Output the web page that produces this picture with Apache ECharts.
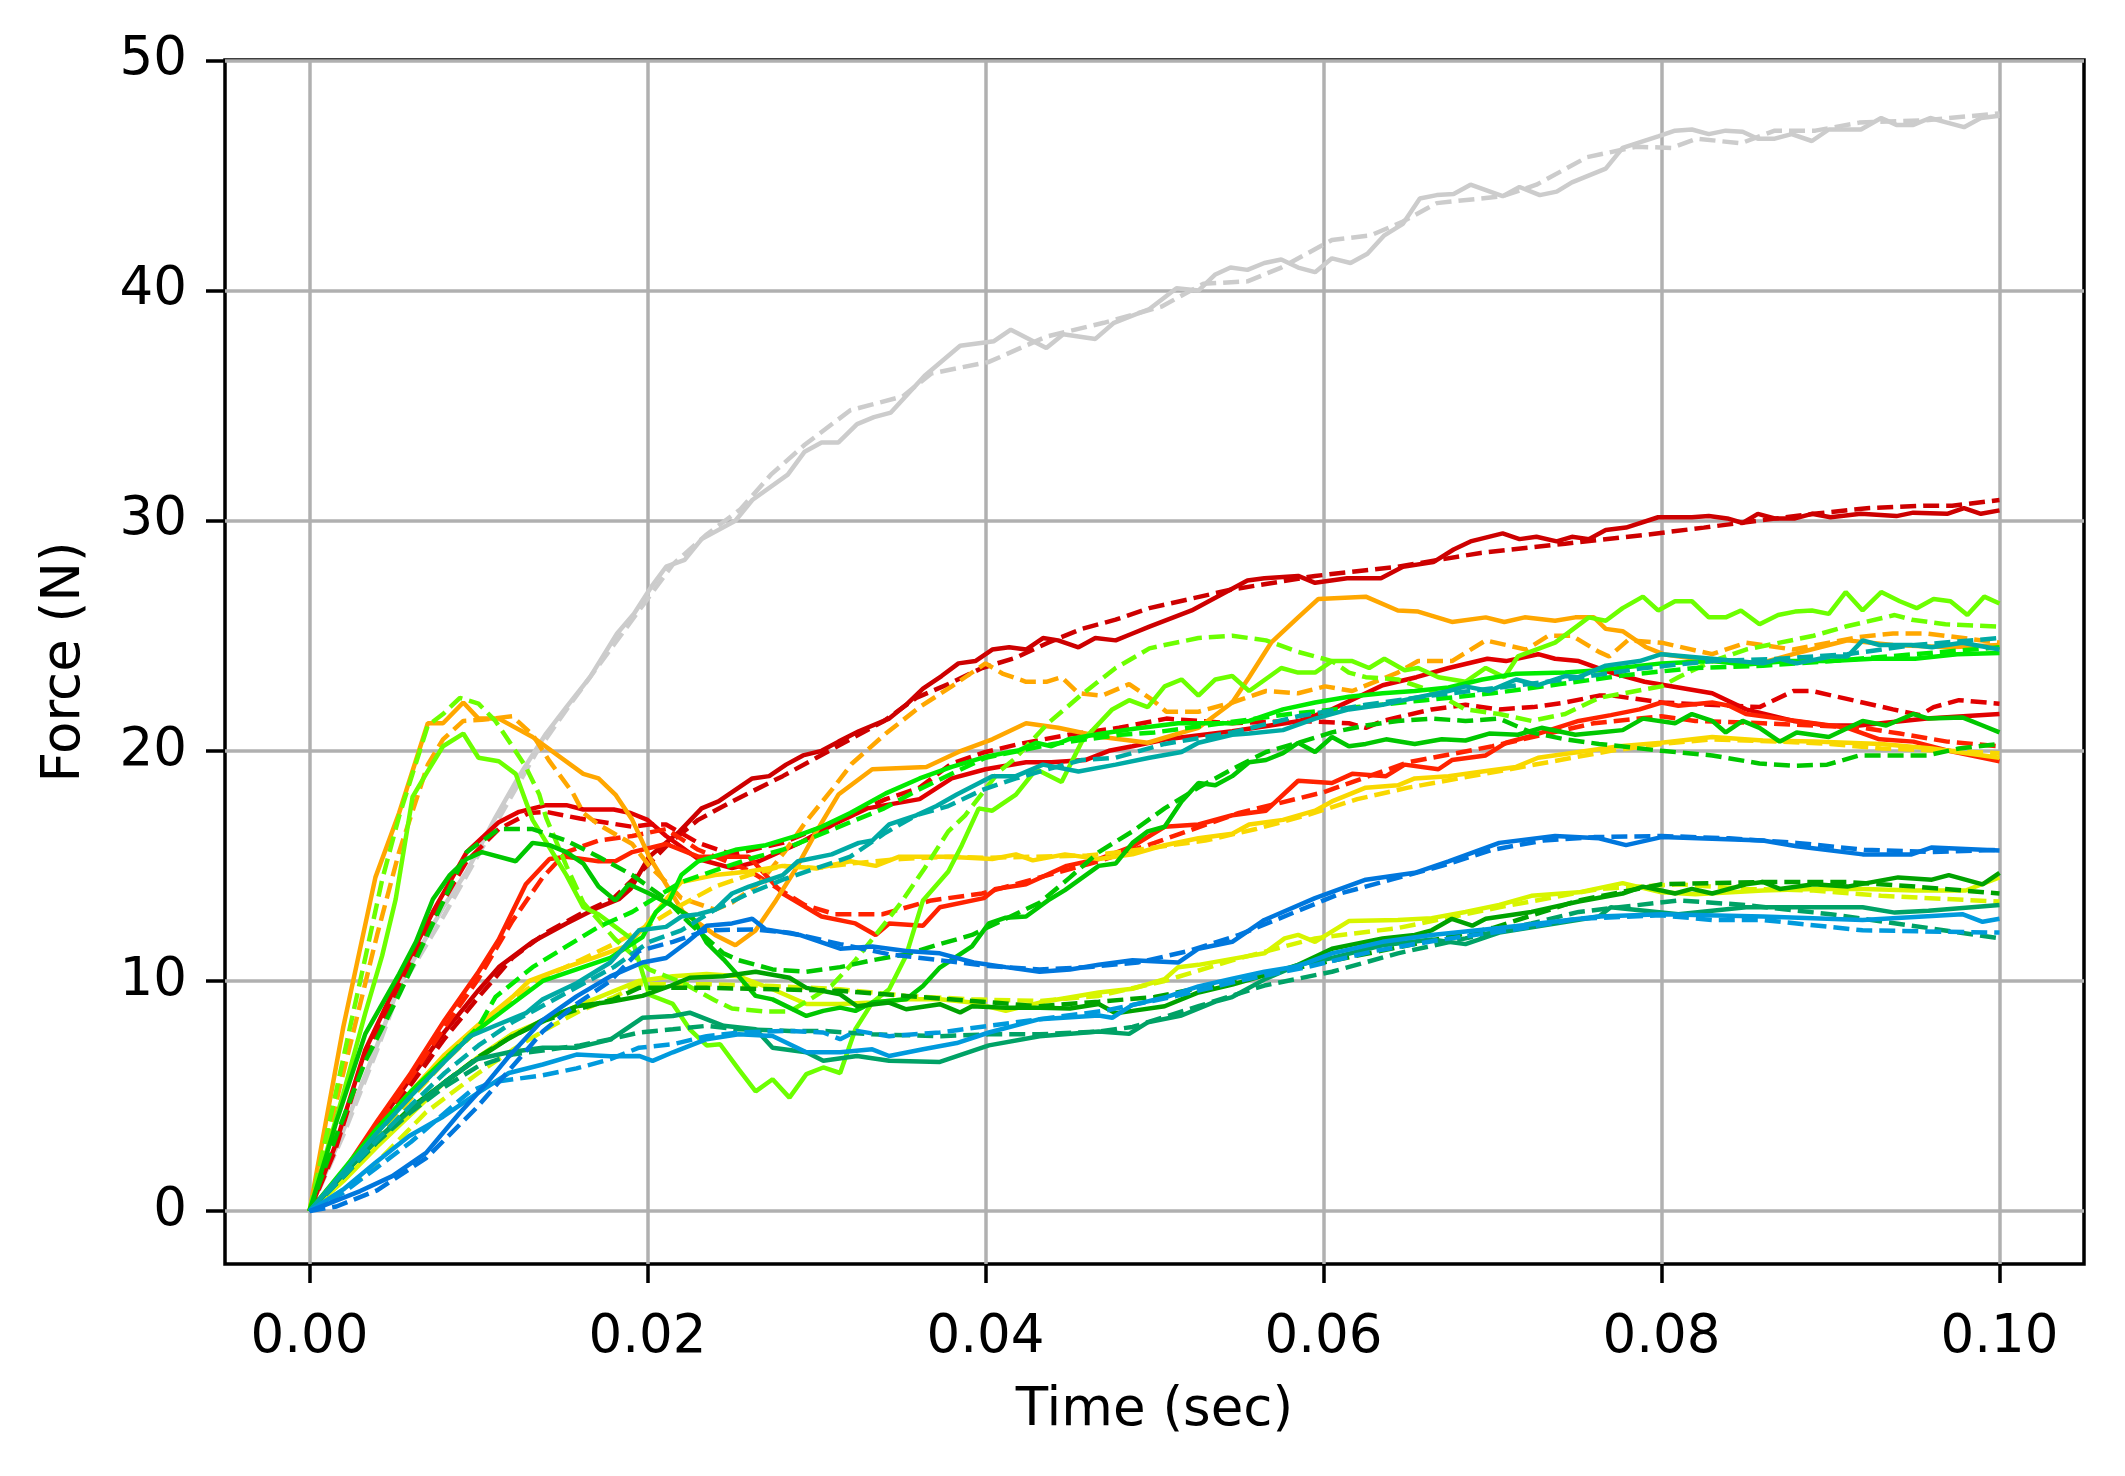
<!DOCTYPE html>
<html>
<head>
<meta charset="utf-8">
<title>Force vs time</title>
<script src="https://cdn.jsdelivr.net/npm/echarts@6/dist/echarts.min.js"></script>
<style>
  html, body { margin: 0; padding: 0; background: #ffffff; }
  #chart { width: 2125px; height: 1476px; }
</style>
</head>
<body>
<div id="chart"></div>
<script>
// tick values
const xTicks = [0, 0.02, 0.04, 0.06, 0.08, 0.1];
const yTicks = [0, 10, 20, 30, 40, 50];

// line colours, grey first, blue last (drawn in this order)
const colors = ["#cccccc", "#cd0000", "#e10000", "#ff2200", "#ffa700", "#f9d800", "#d8f500",
  "#6cff00", "#00eb00", "#00c700", "#00a200", "#00a266", "#00aaa5", "#009add", "#0077dd"];

// [time (sec), force (N)]
const greySolid = [[0,0],[0.002,3.5],[0.004,7.2],[0.0053,9.8],[0.0079,13.2],[0.0093,14.75],[0.011,17.1],[0.0124,18.9],[0.014,20.75],[0.0152,21.9],[0.0166,23.2],[0.0182,25.1],[0.0192,25.96],[0.0202,27.1],[0.0211,28.0],[0.0222,28.3],[0.0232,29.2],[0.0252,30],[0.0262,30.9],[0.0283,32.0],[0.0293,33.0],[0.0303,33.4],[0.0313,33.4],[0.0324,34.2],[0.0334,34.5],[0.0344,34.7],[0.0364,36.3],[0.0385,37.6],[0.0405,37.8],[0.0415,38.3],[0.0436,37.5],[0.0446,38.1],[0.0465,37.9],[0.0476,38.6],[0.0497,39.2],[0.0513,40.1],[0.0526,40.0],[0.0536,40.7],[0.0545,41.0],[0.0555,40.9],[0.0565,41.2],[0.0575,41.35],[0.0585,41.0],[0.0595,40.8],[0.0605,41.4],[0.0616,41.2],[0.0626,41.6],[0.0636,42.4],[0.0647,42.9],[0.0657,44.0],[0.0667,44.15],[0.0677,44.2],[0.0687,44.6],[0.0706,44.1],[0.0716,44.5],[0.0728,44.15],[0.0738,44.3],[0.0747,44.7],[0.0767,45.3],[0.0777,46.2],[0.0798,46.7],[0.0808,46.95],[0.0818,47.0],[0.0828,46.8],[0.0838,46.95],[0.0848,46.9],[0.0857,46.6],[0.0867,46.6],[0.0877,46.8],[0.0889,46.5],[0.0899,47.0],[0.0918,47.0],[0.093,47.5],[0.0939,47.2],[0.0949,47.2],[0.0959,47.5],[0.0969,47.3],[0.0979,47.1],[0.0989,47.5],[0.1,47.6]];
const greyDashed = [[0,0],[0.002,3.3],[0.004,7.0],[0.0053,9.6],[0.008,12.9],[0.011,16.8],[0.0134,19.9],[0.0156,22.2],[0.018,24.6],[0.0198,26.4],[0.0215,28.1],[0.0235,29.4],[0.0255,30.5],[0.0273,32.0],[0.0293,33.3],[0.032,34.8],[0.0351,35.4],[0.0368,36.4],[0.0402,36.9],[0.0436,38.0],[0.047,38.6],[0.0504,39.3],[0.0529,40.3],[0.0555,40.4],[0.0575,41.0],[0.0605,42.2],[0.0628,42.4],[0.0647,43.0],[0.0667,43.8],[0.0706,44.1],[0.0726,44.6],[0.0756,45.8],[0.0785,46.25],[0.0806,46.2],[0.0821,46.6],[0.0847,46.4],[0.0867,46.95],[0.0891,46.95],[0.0917,47.3],[0.0956,47.4],[0.1,47.7]];

const darkRedSolid = [[0,0],[0.002,1.7],[0.004,3.7],[0.006,5.8],[0.008,7.8],[0.01,9.6],[0.0112,10.6],[0.0132,11.7],[0.0152,12.5],[0.0171,13.2],[0.0183,13.55],[0.019,14.0],[0.0201,15.4],[0.0219,16.5],[0.0232,17.5],[0.0242,17.8],[0.0252,18.3],[0.0262,18.8],[0.0272,18.9],[0.0282,19.4],[0.0292,19.8],[0.0303,20.0],[0.0313,20.4],[0.0325,20.85],[0.0343,21.4],[0.0353,22.0],[0.0363,22.7],[0.0374,23.25],[0.0384,23.8],[0.0394,23.9],[0.0404,24.4],[0.0414,24.5],[0.0424,24.4],[0.0434,24.9],[0.0443,24.8],[0.0455,24.5],[0.0465,24.9],[0.0477,24.8],[0.0487,25.1],[0.0497,25.4],[0.0522,26.1],[0.0536,26.65],[0.0555,27.4],[0.0565,27.5],[0.0585,27.6],[0.0595,27.3],[0.0614,27.5],[0.0634,27.5],[0.0647,28.0],[0.0665,28.2],[0.0677,28.75],[0.0687,29.1],[0.0706,29.45],[0.0716,29.2],[0.0726,29.3],[0.0738,29.1],[0.0747,29.3],[0.0757,29.2],[0.0767,29.6],[0.0779,29.7],[0.0798,30.15],[0.0818,30.15],[0.0828,30.2],[0.0839,30.1],[0.0848,29.9],[0.0857,30.3],[0.0867,30.1],[0.0879,30.1],[0.0889,30.3],[0.09,30.15],[0.0918,30.3],[0.0939,30.2],[0.0949,30.35],[0.0969,30.3],[0.0979,30.55],[0.0989,30.3],[0.1,30.45]];
const darkRedDashed = [[0,0],[0.002,1.5],[0.004,3.5],[0.006,5.5],[0.008,7.5],[0.01,9.3],[0.012,11.0],[0.014,12.1],[0.016,12.9],[0.018,13.6],[0.0201,15.1],[0.0213,16.0],[0.023,17.0],[0.025,17.8],[0.028,18.9],[0.03,19.7],[0.032,20.5],[0.034,21.3],[0.0359,22.3],[0.0378,22.9],[0.0398,23.6],[0.0418,24.05],[0.0437,24.7],[0.0457,25.3],[0.0477,25.7],[0.0497,26.2],[0.0545,27.0],[0.0595,27.6],[0.0644,28.0],[0.0693,28.6],[0.0743,29.0],[0.0792,29.4],[0.0825,29.7],[0.0857,30.0],[0.089,30.3],[0.0923,30.55],[0.0955,30.65],[0.0972,30.65],[0.1,30.9]];

const redSolid = [[0,0],[0.0015,2.8],[0.0033,7.0],[0.0053,10.1],[0.0073,13.0],[0.0093,15.6],[0.0112,16.9],[0.0124,17.35],[0.014,17.64],[0.0152,17.64],[0.0162,17.45],[0.018,17.45],[0.019,17.3],[0.02,17.0],[0.0211,16.3],[0.023,15.3],[0.025,14.9],[0.0266,15.2],[0.029,16.0],[0.031,16.8],[0.033,17.5],[0.0361,17.9],[0.038,18.8],[0.04,19.2],[0.0424,19.5],[0.0439,19.5],[0.0459,19.6],[0.0473,20.0],[0.0487,20.2],[0.0507,20.5],[0.0546,20.85],[0.0586,21.3],[0.0605,21.8],[0.0635,22.85],[0.0655,23.2],[0.0674,23.6],[0.0697,24.0],[0.0708,23.9],[0.0727,24.2],[0.0737,24.0],[0.0751,23.9],[0.077,23.4],[0.079,23.0],[0.081,22.75],[0.083,22.5],[0.085,21.8],[0.0878,21.3],[0.0898,21.1],[0.0917,21.1],[0.0937,21.25],[0.0957,21.4],[0.1,21.6]];
const redDashed = [[0,0],[0.0015,2.6],[0.0033,6.8],[0.0053,9.8],[0.0073,12.7],[0.0093,15.2],[0.0112,16.6],[0.013,17.3],[0.014,17.35],[0.015,17.2],[0.016,17.06],[0.0191,16.7],[0.0201,16.8],[0.0211,16.8],[0.023,16.0],[0.025,15.5],[0.028,16.0],[0.031,16.9],[0.0341,17.9],[0.0361,18.4],[0.038,19.45],[0.04,19.95],[0.042,20.3],[0.0449,20.7],[0.0479,21.0],[0.0507,21.4],[0.0526,21.3],[0.0546,21.2],[0.0586,21.3],[0.0615,21.2],[0.0625,21.0],[0.0635,21.3],[0.0664,21.8],[0.0684,22.0],[0.0704,21.8],[0.0724,21.9],[0.0743,22.1],[0.0763,22.4],[0.0771,22.4],[0.08,22.1],[0.0858,21.9],[0.0878,22.6],[0.0889,22.6],[0.0907,22.3],[0.0937,21.8],[0.0953,21.55],[0.0961,21.9],[0.0976,22.2],[0.1,22.05]];

const brightRedSolid = [[0,0],[0.002,1.7],[0.004,3.9],[0.006,6.0],[0.008,8.3],[0.01,10.4],[0.0112,11.8],[0.0128,14.2],[0.0142,15.3],[0.0152,15.4],[0.0171,15.2],[0.0181,15.2],[0.0191,15.6],[0.0211,15.95],[0.023,15.4],[0.026,15.4],[0.028,13.8],[0.0303,12.8],[0.0323,12.5],[0.0335,12.0],[0.0343,12.5],[0.0363,12.4],[0.0373,13.2],[0.0399,13.6],[0.0406,14.0],[0.0424,14.2],[0.0448,15.0],[0.0467,15.3],[0.0487,15.85],[0.0506,16.7],[0.0526,16.8],[0.0546,17.2],[0.0566,17.4],[0.0585,18.7],[0.0605,18.6],[0.0617,19.0],[0.0637,18.9],[0.0648,19.4],[0.0668,19.2],[0.0676,19.6],[0.0696,19.8],[0.0708,20.35],[0.0724,20.67],[0.0751,21.3],[0.077,21.55],[0.0787,21.8],[0.08,22.1],[0.081,21.96],[0.083,22.1],[0.084,21.96],[0.085,21.6],[0.087,21.4],[0.089,21.2],[0.091,21.0],[0.0929,20.5],[0.0949,20.4],[0.097,20.0],[0.1,19.55]];
const brightRedDashed = [[0,0],[0.002,1.5],[0.004,3.6],[0.006,5.8],[0.008,8.0],[0.01,10.1],[0.012,12.6],[0.0138,14.5],[0.0152,15.6],[0.0171,16.1],[0.0191,16.3],[0.0211,16.6],[0.023,15.7],[0.026,14.8],[0.0293,13.3],[0.0311,12.9],[0.0339,12.9],[0.0368,13.5],[0.0398,13.8],[0.0437,14.6],[0.0467,15.2],[0.05,16.0],[0.055,17.3],[0.06,18.2],[0.065,19.5],[0.07,20.2],[0.076,21.2],[0.08,21.5],[0.082,21.3],[0.086,21.2],[0.0919,21.0],[0.0941,20.75],[0.0969,20.4],[0.1,20.2]];

const orangeSolid = [[0,0],[0.002,8.0],[0.0039,14.5],[0.0053,17.3],[0.007,21.2],[0.0079,21.2],[0.0091,22.1],[0.01,21.4],[0.0112,21.4],[0.0132,20.6],[0.0162,19.0],[0.0171,18.8],[0.0181,18.1],[0.0191,17.0],[0.0201,15.4],[0.0211,14.2],[0.0221,13.0],[0.024,12.0],[0.0252,11.55],[0.0264,12.2],[0.0276,13.5],[0.0288,14.9],[0.03,16.5],[0.0313,18.1],[0.0333,19.2],[0.0365,19.3],[0.0384,19.95],[0.0404,20.5],[0.0424,21.2],[0.0443,21.0],[0.0469,20.6],[0.0496,20.35],[0.0514,20.75],[0.0526,21.0],[0.0546,22.1],[0.0556,23.2],[0.0569,24.7],[0.0585,25.8],[0.0597,26.6],[0.0625,26.7],[0.0644,26.1],[0.0656,26.05],[0.0676,25.6],[0.0696,25.8],[0.0707,25.6],[0.0719,25.8],[0.0737,25.65],[0.0749,25.8],[0.076,25.8],[0.0767,25.3],[0.0777,25.2],[0.0791,24.5],[0.0801,24.2],[0.083,23.9],[0.0858,23.8],[0.0878,24.2],[0.0899,24.6],[0.091,24.8],[0.0937,24.6],[0.097,24.5],[0.1,24.6]];
const orangeDashed = [[0,0],[0.002,6.0],[0.004,12.0],[0.0053,15.6],[0.007,19.4],[0.0079,20.5],[0.0091,21.3],[0.0102,21.35],[0.012,21.5],[0.0132,20.7],[0.0142,19.55],[0.0156,18.15],[0.0162,17.3],[0.0171,16.8],[0.0191,15.95],[0.0201,15.0],[0.0211,14.3],[0.022,13.6],[0.024,13.1],[0.025,13.4],[0.0267,14.3],[0.0281,15.6],[0.0293,16.85],[0.0309,18.3],[0.0321,19.45],[0.0341,20.75],[0.0361,21.9],[0.038,22.8],[0.04,23.8],[0.041,23.36],[0.0424,23.0],[0.0436,23.0],[0.0445,23.2],[0.0455,22.5],[0.0469,22.4],[0.0485,22.9],[0.0499,22.2],[0.0507,21.7],[0.0526,21.7],[0.0546,22.1],[0.0566,22.6],[0.0585,22.5],[0.0601,22.8],[0.0617,22.6],[0.0644,23.4],[0.0656,23.9],[0.0676,23.9],[0.0696,24.8],[0.0708,24.6],[0.072,24.4],[0.0733,25.0],[0.0747,25.0],[0.0763,24.3],[0.0769,24.1],[0.078,24.8],[0.08,24.7],[0.083,24.2],[0.085,24.7],[0.0878,24.4],[0.0917,24.95],[0.0937,25.1],[0.0957,25.1],[0.1,24.7]];

const goldSolid = [[0,0],[0.002,1.7],[0.004,3.5],[0.006,5.2],[0.008,6.8],[0.01,8.1],[0.012,9.3],[0.013,10.0],[0.0148,10.5],[0.0168,11.0],[0.0187,11.5],[0.0199,12.4],[0.0211,13.55],[0.022,14.3],[0.024,14.6],[0.026,14.76],[0.028,15.0],[0.03,14.9],[0.032,15.2],[0.0335,15.0],[0.0349,15.4],[0.0378,15.4],[0.0404,15.3],[0.0418,15.5],[0.0428,15.24],[0.0447,15.5],[0.0467,15.3],[0.0487,15.5],[0.0506,15.9],[0.0526,16.2],[0.0546,16.4],[0.0556,16.8],[0.0576,17.0],[0.0595,17.4],[0.0605,17.8],[0.0625,18.4],[0.0644,18.5],[0.0654,18.8],[0.0674,18.9],[0.0694,19.1],[0.0714,19.3],[0.0727,19.7],[0.0751,19.95],[0.0775,20.2],[0.08,20.35],[0.083,20.6],[0.086,20.45],[0.089,20.4],[0.093,20.3],[0.096,20.1],[0.1,19.7]];
const goldDashed = [[0,0],[0.002,1.5],[0.004,3.2],[0.006,4.9],[0.008,6.5],[0.01,7.9],[0.012,9.2],[0.014,10.2],[0.016,10.9],[0.018,11.6],[0.02,12.4],[0.022,13.3],[0.024,14.1],[0.026,14.6],[0.028,15.0],[0.03,14.9],[0.032,15.1],[0.035,15.3],[0.038,15.4],[0.04,15.35],[0.043,15.4],[0.046,15.45],[0.048,15.6],[0.05,15.8],[0.053,16.1],[0.056,16.6],[0.059,17.2],[0.062,17.9],[0.065,18.4],[0.068,18.8],[0.071,19.2],[0.074,19.6],[0.077,20.0],[0.08,20.3],[0.083,20.5],[0.087,20.4],[0.09,20.3],[0.093,20.1],[0.097,20.0],[0.1,19.9]];

const yellowSolid = [[0,0],[0.002,1.3],[0.004,2.8],[0.006,4.2],[0.008,5.6],[0.01,6.7],[0.012,7.7],[0.0158,8.9],[0.0195,10.0],[0.0215,10.2],[0.0235,10.3],[0.0254,10.2],[0.0274,9.64],[0.0294,9.0],[0.0314,9.0],[0.0333,9.06],[0.0353,9.2],[0.0373,9.2],[0.0392,9.06],[0.0412,8.7],[0.0432,9.06],[0.0467,9.5],[0.0487,9.66],[0.0506,10.08],[0.0514,10.6],[0.0526,10.7],[0.0546,10.96],[0.0565,11.2],[0.0577,11.85],[0.0585,12.0],[0.0595,11.7],[0.0615,12.6],[0.0644,12.65],[0.0664,12.73],[0.0684,13.0],[0.0704,13.3],[0.0723,13.7],[0.0751,13.85],[0.0777,14.25],[0.08,13.85],[0.082,13.77],[0.086,13.93],[0.089,14.0],[0.092,14.0],[0.095,13.93],[0.098,13.93],[0.1,14.5]];
const yellowDashed = [[0,0],[0.003,1.4],[0.0049,2.8],[0.0069,4.3],[0.0089,5.4],[0.01,6.0],[0.012,7.0],[0.014,7.9],[0.016,8.7],[0.018,9.3],[0.0195,9.86],[0.0235,9.86],[0.0274,9.78],[0.0314,9.64],[0.0353,9.35],[0.0392,9.2],[0.0432,9.13],[0.0467,9.35],[0.0506,10.0],[0.0546,10.9],[0.0595,11.85],[0.0644,12.3],[0.0704,13.2],[0.0763,14.0],[0.081,14.2],[0.085,14.0],[0.089,13.93],[0.093,13.7],[0.1,13.45]];

const limeSolid = [[0,0],[0.002,5.1],[0.0033,8.6],[0.0043,11.1],[0.0051,13.55],[0.0061,18.0],[0.0069,19.0],[0.0079,20.2],[0.0091,20.75],[0.01,19.7],[0.0112,19.55],[0.0122,19.0],[0.0132,17.0],[0.0142,15.8],[0.0152,14.6],[0.0162,13.2],[0.0171,12.9],[0.0181,12.35],[0.0191,11.8],[0.0201,9.4],[0.0215,9.0],[0.0225,7.9],[0.0235,7.2],[0.0243,7.25],[0.0254,6.16],[0.0264,5.2],[0.0274,5.73],[0.0284,4.93],[0.0294,5.95],[0.0304,6.24],[0.0314,6.0],[0.0323,7.9],[0.0333,9.06],[0.0343,9.64],[0.0353,11.1],[0.0363,13.5],[0.0378,14.76],[0.0386,15.9],[0.0396,17.5],[0.0404,17.4],[0.0418,18.1],[0.043,19.2],[0.0445,18.65],[0.0457,20.4],[0.0475,21.8],[0.0485,22.2],[0.0496,21.9],[0.0506,22.8],[0.0516,23.1],[0.0526,22.4],[0.0536,23.1],[0.0546,23.25],[0.0556,22.6],[0.0575,23.6],[0.0585,23.4],[0.0595,23.4],[0.0605,23.9],[0.0617,23.9],[0.0627,23.6],[0.0636,24.0],[0.0648,23.5],[0.0656,23.6],[0.0668,23.2],[0.0684,23.0],[0.0696,23.6],[0.0707,23.2],[0.0715,24.1],[0.0737,24.7],[0.0757,25.8],[0.0767,25.65],[0.0777,26.2],[0.0789,26.7],[0.0798,26.1],[0.0808,26.5],[0.0818,26.5],[0.0828,25.8],[0.0838,25.8],[0.0847,26.1],[0.0858,25.5],[0.0869,25.9],[0.0879,26.05],[0.0889,26.1],[0.0899,25.95],[0.0909,26.9],[0.0919,26.1],[0.093,26.9],[0.0941,26.5],[0.0951,26.2],[0.0961,26.6],[0.0971,26.5],[0.0981,25.9],[0.0991,26.7],[0.1,26.4]];
const limeDashed = [[0,0],[0.0014,4.6],[0.0024,8.0],[0.0033,11.0],[0.0043,14.4],[0.0053,17.15],[0.007,21.1],[0.0079,21.6],[0.0089,22.3],[0.01,22.05],[0.011,21.3],[0.012,20.2],[0.0128,19.3],[0.0136,18.1],[0.014,17.1],[0.0152,15.0],[0.0162,13.4],[0.0181,11.8],[0.0201,10.5],[0.022,9.95],[0.024,9.15],[0.025,8.8],[0.027,8.67],[0.0284,8.67],[0.0295,9.15],[0.0309,9.8],[0.0323,10.9],[0.0335,12.0],[0.0349,13.3],[0.0364,14.9],[0.0378,16.5],[0.0388,17.2],[0.0408,19.1],[0.0418,19.7],[0.0437,21.2],[0.0457,22.45],[0.0477,23.6],[0.0497,24.45],[0.0506,24.6],[0.0526,24.9],[0.0546,25.0],[0.0566,24.8],[0.0585,24.3],[0.0605,23.9],[0.0615,23.4],[0.0625,23.2],[0.0644,23.1],[0.0664,22.6],[0.0684,21.8],[0.0704,21.6],[0.0723,21.3],[0.0743,21.6],[0.0763,22.3],[0.077,22.4],[0.08,22.8],[0.081,23.2],[0.083,23.9],[0.085,24.4],[0.087,24.7],[0.089,25.0],[0.0909,25.4],[0.0938,25.9],[0.0948,25.7],[0.0968,25.5],[0.1,25.4]];

const brightGreenSolid = [[0,0],[0.002,1.8],[0.004,3.6],[0.006,5.2],[0.008,6.6],[0.01,7.9],[0.0118,8.9],[0.0138,10.0],[0.0158,10.5],[0.0178,11.0],[0.0197,11.9],[0.0205,13.0],[0.0213,13.5],[0.022,14.6],[0.023,15.2],[0.0252,15.7],[0.027,15.9],[0.029,16.35],[0.0303,16.7],[0.032,17.3],[0.0341,18.15],[0.0361,18.8],[0.038,19.3],[0.04,19.74],[0.042,20.03],[0.043,20.35],[0.0439,20.2],[0.0449,20.5],[0.0469,20.75],[0.0489,20.97],[0.0514,21.2],[0.0546,21.2],[0.0556,21.3],[0.0576,21.8],[0.0595,22.1],[0.0615,22.35],[0.0635,22.5],[0.0654,22.6],[0.0674,22.75],[0.0694,23.1],[0.0714,23.35],[0.0743,23.4],[0.0763,23.5],[0.08,23.8],[0.083,23.9],[0.085,23.75],[0.0875,23.9],[0.09,23.9],[0.0925,24.0],[0.095,24.0],[0.0975,24.2],[0.1,24.25]];
const brightGreenDashed = [[0,0],[0.002,1.7],[0.004,3.4],[0.006,5.0],[0.008,6.6],[0.01,8.0],[0.011,9.3],[0.0132,10.6],[0.0152,11.5],[0.0171,12.35],[0.0191,13.0],[0.0211,13.9],[0.022,14.3],[0.024,14.8],[0.026,15.3],[0.028,15.7],[0.03,16.3],[0.032,16.9],[0.034,17.5],[0.036,18.3],[0.038,19.0],[0.04,19.7],[0.042,20.0],[0.044,20.3],[0.046,20.5],[0.048,20.7],[0.05,20.8],[0.054,21.2],[0.058,21.6],[0.062,21.9],[0.066,22.2],[0.07,22.5],[0.074,22.9],[0.078,23.3],[0.082,23.6],[0.086,23.7],[0.09,23.9],[0.095,24.2],[0.1,24.5]];

const greenSolid = [[0,0],[0.0016,3.9],[0.0033,7.7],[0.0053,10.3],[0.0063,11.7],[0.0073,13.55],[0.0083,14.6],[0.0093,15.3],[0.0102,15.6],[0.0122,15.2],[0.0132,16.0],[0.0142,15.9],[0.0152,15.6],[0.0162,15.1],[0.0171,14.1],[0.0181,13.5],[0.0189,14.2],[0.0201,13.8],[0.0215,13.26],[0.0227,12.7],[0.0235,11.66],[0.0245,10.94],[0.0254,10.2],[0.0264,9.35],[0.0274,9.2],[0.0284,8.84],[0.0294,8.48],[0.0304,8.7],[0.0314,8.84],[0.0323,8.7],[0.0333,9.06],[0.0353,9.2],[0.0363,9.78],[0.0373,10.58],[0.0392,11.5],[0.0402,12.5],[0.0412,12.75],[0.0424,12.8],[0.0437,13.5],[0.0447,13.95],[0.0467,15.0],[0.0477,15.1],[0.0487,16.0],[0.0496,16.5],[0.0506,16.7],[0.0516,17.8],[0.0526,18.6],[0.0536,18.5],[0.0546,18.9],[0.0556,19.5],[0.0566,19.6],[0.0576,19.9],[0.0585,20.35],[0.0595,19.95],[0.0605,20.6],[0.0615,20.2],[0.0625,20.3],[0.0637,20.5],[0.0654,20.3],[0.067,20.5],[0.0684,20.45],[0.0698,20.75],[0.0715,20.7],[0.0729,21.0],[0.0749,20.7],[0.0763,20.8],[0.0777,20.9],[0.0789,21.4],[0.0808,21.2],[0.0818,21.6],[0.083,21.3],[0.0838,20.8],[0.0848,21.3],[0.0858,21.0],[0.087,20.4],[0.088,20.8],[0.0899,20.6],[0.0919,21.3],[0.0933,21.1],[0.0949,21.6],[0.0958,21.4],[0.0978,21.45],[0.099,21.1],[0.1,20.8]];
const greenDashed = [[0,0],[0.0016,3.3],[0.0033,6.5],[0.0053,9.4],[0.0073,12.5],[0.0093,15.6],[0.0112,16.6],[0.0132,16.6],[0.0152,16.1],[0.0171,15.4],[0.0191,14.6],[0.0211,13.55],[0.0225,12.5],[0.0245,11.2],[0.0254,10.9],[0.0274,10.5],[0.0294,10.4],[0.0314,10.6],[0.0333,10.9],[0.0353,11.16],[0.0373,11.6],[0.0392,12.0],[0.0412,12.7],[0.0432,13.4],[0.045,14.5],[0.0467,15.6],[0.0487,16.5],[0.0506,17.5],[0.0526,18.4],[0.0546,19.2],[0.0566,19.95],[0.0585,20.35],[0.0605,20.8],[0.0625,21.1],[0.0644,21.3],[0.0664,21.4],[0.0684,21.3],[0.0704,21.4],[0.0723,20.8],[0.0743,20.5],[0.0763,20.3],[0.08,20.0],[0.083,19.8],[0.0858,19.45],[0.0878,19.35],[0.0898,19.4],[0.0917,19.8],[0.0957,19.8],[0.0976,20.1],[0.1,20.3]];

const darkGreenSolid = [[0,0],[0.002,1.6],[0.004,3.1],[0.006,4.5],[0.008,5.6],[0.0099,6.6],[0.0118,7.5],[0.0138,8.3],[0.0158,8.9],[0.0178,9.1],[0.0197,9.35],[0.0213,9.77],[0.0225,10.14],[0.0245,10.2],[0.0264,10.4],[0.0284,10.14],[0.0294,9.7],[0.0314,9.42],[0.0324,8.9],[0.0343,9.06],[0.0353,8.77],[0.0373,8.99],[0.0385,8.63],[0.0392,8.9],[0.0412,8.84],[0.0432,8.84],[0.045,8.8],[0.0467,9.0],[0.0477,8.6],[0.0487,8.7],[0.0506,8.9],[0.0526,9.5],[0.0546,9.84],[0.0565,10.24],[0.0585,10.7],[0.0605,11.4],[0.0635,11.85],[0.0654,12.0],[0.0664,12.2],[0.0676,12.7],[0.0688,12.4],[0.0696,12.7],[0.0723,13.0],[0.0751,13.45],[0.0777,13.8],[0.0789,14.1],[0.0808,13.8],[0.0818,14.0],[0.083,13.8],[0.085,14.2],[0.086,14.3],[0.087,14.0],[0.089,14.2],[0.091,14.1],[0.094,14.5],[0.096,14.4],[0.097,14.6],[0.099,14.2],[0.1,14.7]];
const darkGreenDashed = [[0,0],[0.002,1.5],[0.004,3.0],[0.006,4.4],[0.008,5.6],[0.01,6.7],[0.012,7.6],[0.014,8.3],[0.016,8.8],[0.018,9.2],[0.0195,9.7],[0.0235,9.7],[0.0274,9.64],[0.0314,9.57],[0.0353,9.35],[0.0392,9.13],[0.0432,8.9],[0.0467,9.1],[0.05,9.3],[0.054,9.9],[0.058,10.5],[0.062,11.1],[0.066,11.7],[0.07,12.3],[0.0751,13.5],[0.08,14.2],[0.086,14.3],[0.091,14.3],[0.095,14.1],[0.1,13.8]];

const tealGreenSolid = [[0,0],[0.002,1.6],[0.004,3.1],[0.006,4.4],[0.008,5.6],[0.0099,6.6],[0.0118,6.9],[0.0138,7.1],[0.0158,7.1],[0.0178,7.45],[0.0197,8.4],[0.0215,8.48],[0.0225,8.62],[0.0245,8.05],[0.0264,7.9],[0.0274,7.1],[0.0294,6.9],[0.0304,6.53],[0.0324,6.74],[0.0343,6.53],[0.0373,6.48],[0.0402,7.2],[0.0432,7.6],[0.0467,7.8],[0.0485,7.7],[0.0496,8.2],[0.0516,8.5],[0.0536,9.1],[0.0546,9.3],[0.0566,10.1],[0.0585,10.7],[0.0605,11.0],[0.0635,11.55],[0.0664,11.8],[0.0684,11.6],[0.0704,12.1],[0.0763,12.8],[0.077,13.2],[0.081,12.9],[0.085,13.2],[0.0919,13.2],[0.0938,12.97],[0.0958,13.05],[0.1,13.3]];
const tealGreenDashed = [[0,0],[0.002,1.5],[0.004,3.0],[0.006,4.3],[0.008,5.4],[0.01,6.3],[0.012,6.8],[0.014,7.0],[0.016,7.2],[0.018,7.5],[0.0195,7.76],[0.0215,7.9],[0.0235,8.05],[0.0254,7.9],[0.0284,7.83],[0.0304,7.83],[0.0333,7.68],[0.0373,7.6],[0.0402,7.68],[0.0432,7.68],[0.0467,7.8],[0.0487,8.0],[0.0526,8.9],[0.0565,9.8],[0.0605,10.4],[0.0644,11.2],[0.0684,11.85],[0.0723,12.5],[0.0751,13.0],[0.081,13.5],[0.085,13.3],[0.09,12.9],[0.0958,12.3],[0.1,11.85]];

const tealSolid = [[0,0],[0.002,1.7],[0.004,3.4],[0.006,5.0],[0.008,6.5],[0.0095,7.6],[0.0108,8.0],[0.0128,8.6],[0.0138,9.2],[0.0158,9.9],[0.0178,10.8],[0.0195,12.2],[0.0211,12.35],[0.022,12.8],[0.023,12.9],[0.024,13.1],[0.025,13.8],[0.026,14.1],[0.028,14.6],[0.0289,15.2],[0.0309,15.5],[0.0325,16.0],[0.0333,16.1],[0.0343,16.8],[0.0359,17.2],[0.0371,17.6],[0.0383,18.1],[0.0404,18.9],[0.0418,18.9],[0.0434,19.4],[0.0455,19.1],[0.0477,19.4],[0.0497,19.7],[0.0516,19.95],[0.0526,20.35],[0.0546,20.7],[0.0556,20.75],[0.0576,20.9],[0.0595,21.4],[0.0615,21.8],[0.0635,22.0],[0.0654,22.3],[0.0674,22.6],[0.0684,22.8],[0.0698,22.6],[0.0714,23.1],[0.0727,22.85],[0.0743,23.25],[0.0751,23.2],[0.0767,23.7],[0.0787,23.9],[0.08,24.2],[0.083,24.0],[0.086,23.8],[0.087,24.0],[0.088,23.8],[0.09,24.1],[0.091,24.1],[0.0919,24.8],[0.0929,24.6],[0.0948,24.6],[0.096,24.5],[0.0978,24.7],[0.1,24.4]];
const tealDashed = [[0,0],[0.002,1.5],[0.004,3.1],[0.006,4.6],[0.008,6.0],[0.01,7.2],[0.012,8.2],[0.014,9.0],[0.016,9.8],[0.018,10.6],[0.0201,11.7],[0.022,12.2],[0.024,13.1],[0.026,13.8],[0.028,14.4],[0.03,14.9],[0.032,15.4],[0.034,16.4],[0.0359,17.2],[0.0378,17.6],[0.0398,18.3],[0.0418,18.8],[0.0437,19.2],[0.0457,19.6],[0.0477,19.7],[0.0506,20.3],[0.0546,20.8],[0.0585,21.5],[0.0625,22.0],[0.0664,22.4],[0.0704,22.75],[0.0743,23.1],[0.079,23.6],[0.083,23.9],[0.087,24.0],[0.091,24.2],[0.095,24.6],[0.1,24.9]];

const lightBlueSolid = [[0,0],[0.002,0.94],[0.0039,2.1],[0.0059,3.26],[0.0079,4.1],[0.0099,5.1],[0.0118,6.0],[0.0138,6.37],[0.0158,6.8],[0.0178,6.73],[0.0195,6.74],[0.0203,6.53],[0.0215,6.9],[0.0235,7.47],[0.0254,7.68],[0.0274,7.61],[0.0294,6.9],[0.0314,6.9],[0.0333,7.03],[0.0343,6.74],[0.0363,7.03],[0.0383,7.3],[0.0402,7.76],[0.0432,8.34],[0.0467,8.5],[0.0475,8.4],[0.0487,8.96],[0.0506,9.28],[0.0526,9.76],[0.0546,10.1],[0.0565,10.4],[0.0585,10.64],[0.0605,11.2],[0.0635,11.7],[0.0664,12.0],[0.0704,12.3],[0.0763,12.8],[0.08,12.9],[0.086,12.8],[0.0919,12.65],[0.0978,12.9],[0.099,12.57],[0.1,12.7]];
const lightBlueDashed = [[0,0],[0.002,0.8],[0.004,1.9],[0.006,3.0],[0.0079,4.2],[0.0095,5.2],[0.0108,5.6],[0.0138,5.9],[0.0158,6.2],[0.0178,6.6],[0.0195,7.1],[0.0215,7.25],[0.0235,7.6],[0.0254,7.76],[0.0284,7.83],[0.0304,7.76],[0.0314,7.47],[0.0324,7.83],[0.0343,7.6],[0.0373,7.76],[0.0402,8.05],[0.0432,8.34],[0.047,8.7],[0.051,9.3],[0.055,10.0],[0.059,10.6],[0.063,11.3],[0.067,11.8],[0.071,12.2],[0.075,12.7],[0.08,12.85],[0.083,12.65],[0.086,12.65],[0.0919,12.2],[0.1,12.1]];

const blueSolid = [[0,0],[0.003,0.87],[0.0049,1.52],[0.0069,2.53],[0.0089,4.27],[0.0105,5.57],[0.0118,6.73],[0.0138,8.3],[0.0158,9.33],[0.0178,10.2],[0.0197,10.8],[0.0211,11.0],[0.0223,11.66],[0.0235,12.4],[0.025,12.5],[0.0262,12.7],[0.027,12.24],[0.029,12.0],[0.0314,11.4],[0.0333,11.5],[0.0353,11.3],[0.0373,11.2],[0.0393,10.8],[0.0412,10.6],[0.0432,10.4],[0.045,10.5],[0.0467,10.7],[0.0487,10.9],[0.0514,10.8],[0.0526,11.4],[0.0546,11.7],[0.0565,12.65],[0.0595,13.6],[0.0625,14.4],[0.0654,14.7],[0.0674,15.2],[0.0704,16.0],[0.0737,16.3],[0.0763,16.2],[0.0779,15.9],[0.08,16.25],[0.086,16.1],[0.088,15.85],[0.0919,15.5],[0.0948,15.5],[0.096,15.8],[0.1,15.67]];
const blueDashed = [[0,0],[0.0016,0.2],[0.004,0.9],[0.0069,2.3],[0.0099,4.5],[0.0138,7.8],[0.0158,9.0],[0.0178,10.0],[0.0195,11.3],[0.0215,11.7],[0.0235,12.2],[0.0262,12.24],[0.0284,12.1],[0.0314,11.6],[0.0343,11.16],[0.0373,10.9],[0.0402,10.65],[0.0432,10.5],[0.046,10.6],[0.049,10.8],[0.052,11.3],[0.055,12.0],[0.058,12.9],[0.061,13.8],[0.064,14.4],[0.067,15.0],[0.07,15.7],[0.073,16.1],[0.076,16.25],[0.08,16.3],[0.084,16.2],[0.088,16.0],[0.092,15.7],[0.096,15.6],[0.1,15.7]];

// solid / dashed pairs, same order as colors
const pairs = [
  [greySolid, greyDashed],
  [darkRedSolid, darkRedDashed],
  [redSolid, redDashed],
  [brightRedSolid, brightRedDashed],
  [orangeSolid, orangeDashed],
  [goldSolid, goldDashed],
  [yellowSolid, yellowDashed],
  [limeSolid, limeDashed],
  [brightGreenSolid, brightGreenDashed],
  [greenSolid, greenDashed],
  [darkGreenSolid, darkGreenDashed],
  [tealGreenSolid, tealGreenDashed],
  [tealSolid, tealDashed],
  [lightBlueSolid, lightBlueDashed],
  [blueSolid, blueDashed]
];

const font = "DejaVu Sans";
let series = [];
pairs.forEach(function (p, i) {
  series.push({
    type: "line",
    data: p[0],
    showSymbol: false,
    lineStyle: { color: colors[i], width: 4.5 }
  });
  series.push({
    type: "line",
    data: p[1],
    showSymbol: false,
    lineStyle: { color: colors[i], width: 4.5, type: [16, 7] }
  });
});

const chart = echarts.init(document.getElementById("chart"), null, { renderer: "canvas" });
let option = {
  animation: false,
  backgroundColor: "#ffffff",
  grid: {
    left: 225,
    right: 41,
    top: 60,
    bottom: 212,
    show: true,
    borderColor: "#000000",
    borderWidth: 3.5
  },
  xAxis: {
    type: "value",
    min: -0.005,
    max: 0.105,
    name: "Time (sec)",
    nameLocation: "middle",
    nameGap: 121,
    nameTextStyle: { fontFamily: font, fontSize: 53, color: "#000000" },
    axisLine: { show: false, onZero: false },
    axisTick: { show: true, customValues: xTicks, length: 19, lineStyle: { color: "#000000", width: 3.5 } },
    axisLabel: {
      customValues: xTicks,
      margin: 48,
      fontFamily: font,
      fontSize: 53,
      color: "#000000",
      formatter: function (v) { return v.toFixed(2); }
    },
    splitLine: { show: true, lineStyle: { color: "#b0b0b0", width: 3.5 } }
  },
  yAxis: {
    type: "value",
    min: -2.3,
    max: 50.02,
    name: "Force (N)",
    nameLocation: "middle",
    nameGap: 133,
    nameTextStyle: { fontFamily: font, fontSize: 53, color: "#000000" },
    axisLine: { show: false, onZero: false },
    axisTick: { show: true, customValues: yTicks, length: 19, lineStyle: { color: "#000000", width: 3.5 } },
    axisLabel: {
      customValues: yTicks,
      margin: 38,
      fontFamily: font,
      fontSize: 53,
      color: "#000000"
    },
    splitLine: { show: true, lineStyle: { color: "#b0b0b0", width: 3.5 } }
  },
  series: series
};
chart.setOption(option);
</script>
</body>
</html>
